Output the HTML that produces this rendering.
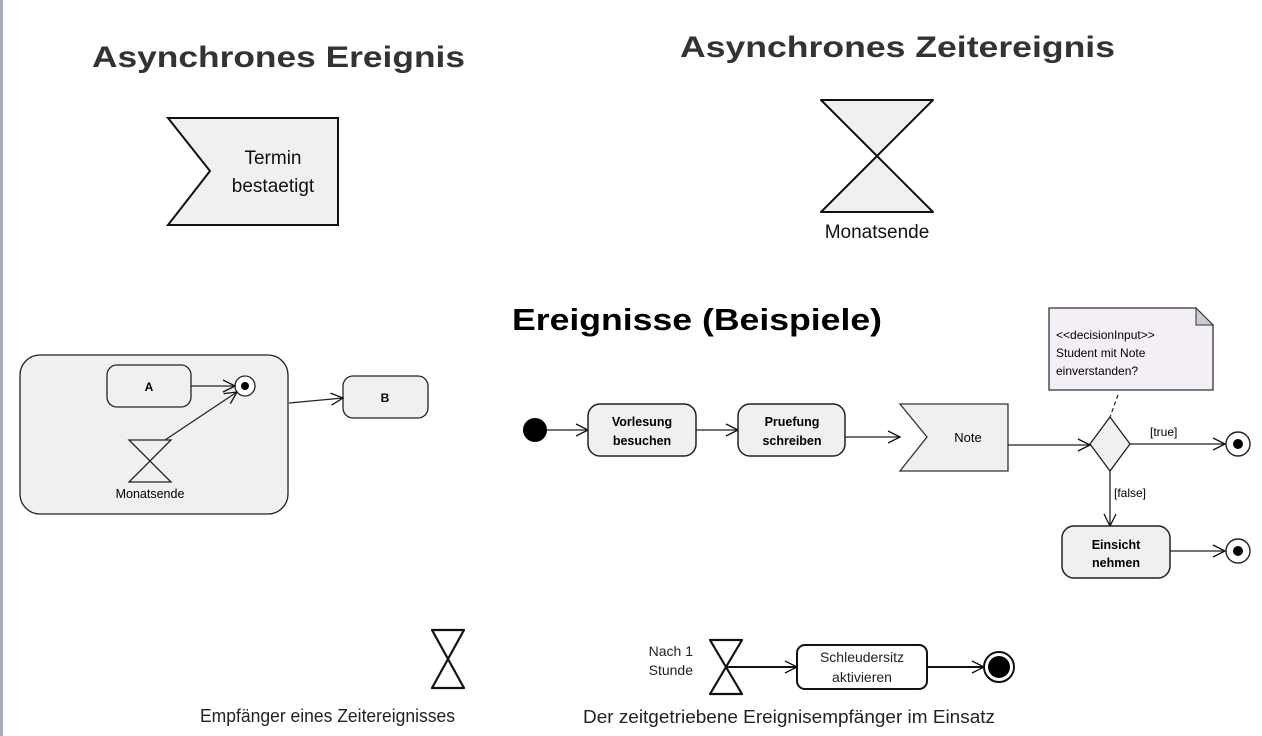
<!DOCTYPE html>
<html><head><meta charset="utf-8"><style>
html,body{margin:0;padding:0;background:#fff;width:1262px;height:736px;overflow:hidden}
svg{display:block}
text{font-family:"Liberation Sans",sans-serif}
</style></head><body>
<svg width="1262" height="736" viewBox="0 0 1262 736" xmlns="http://www.w3.org/2000/svg">
<defs>
<marker id="ar" markerWidth="14" markerHeight="14" refX="13" refY="7" orient="auto" markerUnits="userSpaceOnUse">
<path d="M1,1 L13,7 L1,13" fill="none" stroke="#111" stroke-width="1.3"/>
</marker>
</defs>
<rect x="0" y="0" width="3" height="736" fill="#a8aeb8"/>

<!-- Top left -->
<text x="92" y="67" font-size="30" font-weight="bold" fill="#333" textLength="373" lengthAdjust="spacingAndGlyphs">Asynchrones Ereignis</text>
<path d="M168,118 L338,118 L338,225 L168,225 L210,171 Z" fill="#f0f0f0" stroke="#111" stroke-width="2"/>
<text x="273" y="164" font-size="19" text-anchor="middle" fill="#111">Termin</text>
<text x="273" y="192" font-size="19" text-anchor="middle" fill="#111">bestaetigt</text>

<!-- Top right -->
<text x="680" y="57" font-size="30" font-weight="bold" fill="#333" textLength="435" lengthAdjust="spacingAndGlyphs">Asynchrones Zeitereignis</text>
<path d="M821,100 L933,100 L877,156 Z M821,212 L933,212 L877,156 Z" fill="#f0f0f0" stroke="#111" stroke-width="2" stroke-linejoin="round"/>
<text x="877" y="238" font-size="19" text-anchor="middle" fill="#111">Monatsende</text>

<!-- Left diagram -->
<rect x="20" y="355" width="268" height="159" rx="20" fill="#f0f0f0" stroke="#222" stroke-width="1.3"/>
<rect x="107" y="365" width="84" height="42" rx="10" fill="#f0f0f0" stroke="#222" stroke-width="1.3"/>
<text x="149" y="391" font-size="12" font-weight="bold" text-anchor="middle">A</text>
<circle cx="245" cy="386" r="10" fill="#fff" stroke="#222" stroke-width="1.3"/>
<circle cx="245" cy="386" r="4" fill="#000"/>
<line x1="191" y1="386" x2="235" y2="386" stroke="#222" stroke-width="1.2" marker-end="url(#ar)"/>
<path d="M129,440 L171,440 L150,461 Z M129,482 L171,482 L150,461 Z" fill="none" stroke="#222" stroke-width="1.3"/>
<line x1="165" y1="440" x2="237" y2="392" stroke="#222" stroke-width="1.2" marker-end="url(#ar)"/>
<text x="150" y="498" font-size="12.5" text-anchor="middle">Monatsende</text>
<rect x="343" y="376" width="85" height="42" rx="10" fill="#f0f0f0" stroke="#222" stroke-width="1.3"/>
<text x="385" y="402" font-size="12" font-weight="bold" text-anchor="middle">B</text>
<line x1="289" y1="403" x2="343" y2="398" stroke="#222" stroke-width="1.2" marker-end="url(#ar)"/>

<!-- Ereignisse -->
<text x="512" y="330" font-size="31" font-weight="bold" fill="#000" textLength="370" lengthAdjust="spacingAndGlyphs">Ereignisse (Beispiele)</text>
<circle cx="535" cy="430" r="12" fill="#000"/>
<line x1="547" y1="430" x2="588" y2="430" stroke="#222" stroke-width="1.3" marker-end="url(#ar)"/>
<rect x="588" y="404" width="108" height="52" rx="12" fill="#f0f0f0" stroke="#222" stroke-width="1.5"/>
<text x="642" y="426" font-size="12.5" font-weight="bold" text-anchor="middle">Vorlesung</text>
<text x="642" y="445" font-size="12.5" font-weight="bold" text-anchor="middle">besuchen</text>
<line x1="696" y1="430" x2="738" y2="430" stroke="#222" stroke-width="1.3" marker-end="url(#ar)"/>
<rect x="738" y="404" width="107" height="52" rx="12" fill="#f0f0f0" stroke="#222" stroke-width="1.5"/>
<text x="792" y="426" font-size="12.5" font-weight="bold" text-anchor="middle">Pruefung</text>
<text x="792" y="445" font-size="12.5" font-weight="bold" text-anchor="middle">schreiben</text>
<line x1="845" y1="437" x2="900" y2="437" stroke="#222" stroke-width="1.3" marker-end="url(#ar)"/>
<path d="M900,404 L1008,404 L1008,471 L900,471 L927,437 Z" fill="#f0f0f0" stroke="#333" stroke-width="1.3"/>
<text x="968" y="442" font-size="13" text-anchor="middle">Note</text>
<line x1="1008" y1="445" x2="1090" y2="445" stroke="#222" stroke-width="1.3" marker-end="url(#ar)"/>
<path d="M1110,417 L1130,444 L1110,471 L1090,444 Z" fill="#f0f0f0" stroke="#222" stroke-width="1.3"/>
<line x1="1118" y1="395" x2="1110" y2="417" stroke="#222" stroke-width="1.2" stroke-dasharray="4,3"/>
<path d="M1049,308 L1196,308 L1213,325 L1213,390 L1049,390 Z" fill="#f4eff6" stroke="#333" stroke-width="1.3"/>
<path d="M1196,308 L1196,325 L1213,325 Z" fill="#ccc" stroke="#333" stroke-width="1"/>
<text x="1056" y="339" font-size="12">&lt;&lt;decisionInput&gt;&gt;</text>
<text x="1056" y="357" font-size="12">Student mit Note</text>
<text x="1056" y="375" font-size="12">einverstanden?</text>
<line x1="1130" y1="444" x2="1225" y2="444" stroke="#222" stroke-width="1.3" marker-end="url(#ar)"/>
<text x="1150" y="436" font-size="12">[true]</text>
<circle cx="1238" cy="444" r="12" fill="#fff" stroke="#222" stroke-width="1.4"/>
<circle cx="1238" cy="444" r="5" fill="#000"/>
<line x1="1110" y1="471" x2="1110" y2="526" stroke="#222" stroke-width="1.3" marker-end="url(#ar)"/>
<text x="1114" y="497" font-size="12">[false]</text>
<rect x="1062" y="526" width="108" height="52" rx="12" fill="#f0f0f0" stroke="#222" stroke-width="1.5"/>
<text x="1116" y="549" font-size="12.5" font-weight="bold" text-anchor="middle">Einsicht</text>
<text x="1116" y="567" font-size="12.5" font-weight="bold" text-anchor="middle">nehmen</text>
<line x1="1170" y1="551" x2="1225" y2="551" stroke="#222" stroke-width="1.3" marker-end="url(#ar)"/>
<circle cx="1238" cy="551" r="12" fill="#fff" stroke="#222" stroke-width="1.4"/>
<circle cx="1238" cy="551" r="5" fill="#000"/>

<!-- Bottom -->
<path d="M432,630 L464,630 L448,659 Z M432,688 L464,688 L448,659 Z" fill="none" stroke="#111" stroke-width="2.2" stroke-linejoin="round"/>
<text x="200" y="722" font-size="18" fill="#222" textLength="255" lengthAdjust="spacingAndGlyphs">Empfänger eines Zeitereignisses</text>

<text x="693" y="656" font-size="14" text-anchor="end" fill="#222">Nach 1</text>
<text x="693" y="675" font-size="14" text-anchor="end" fill="#222">Stunde</text>
<path d="M710,640 L742,640 L726,667 Z M710,694 L742,694 L726,667 Z" fill="none" stroke="#111" stroke-width="2.2" stroke-linejoin="round"/>
<line x1="726" y1="667" x2="797" y2="667" stroke="#111" stroke-width="2" marker-end="url(#ar)"/>
<rect x="797" y="645" width="130" height="44" rx="8" fill="#fff" stroke="#111" stroke-width="2"/>
<text x="862" y="662" font-size="14" text-anchor="middle" fill="#222">Schleudersitz</text>
<text x="862" y="682" font-size="14" text-anchor="middle" fill="#222">aktivieren</text>
<line x1="927" y1="667" x2="984" y2="667" stroke="#111" stroke-width="2" marker-end="url(#ar)"/>
<circle cx="999" cy="667" r="15" fill="#fff" stroke="#111" stroke-width="2"/>
<circle cx="999" cy="667" r="11" fill="#000"/>
<text x="583" y="723" font-size="18" fill="#222" textLength="412" lengthAdjust="spacingAndGlyphs">Der zeitgetriebene Ereignisempfänger im Einsatz</text>
</svg>
</body></html>
